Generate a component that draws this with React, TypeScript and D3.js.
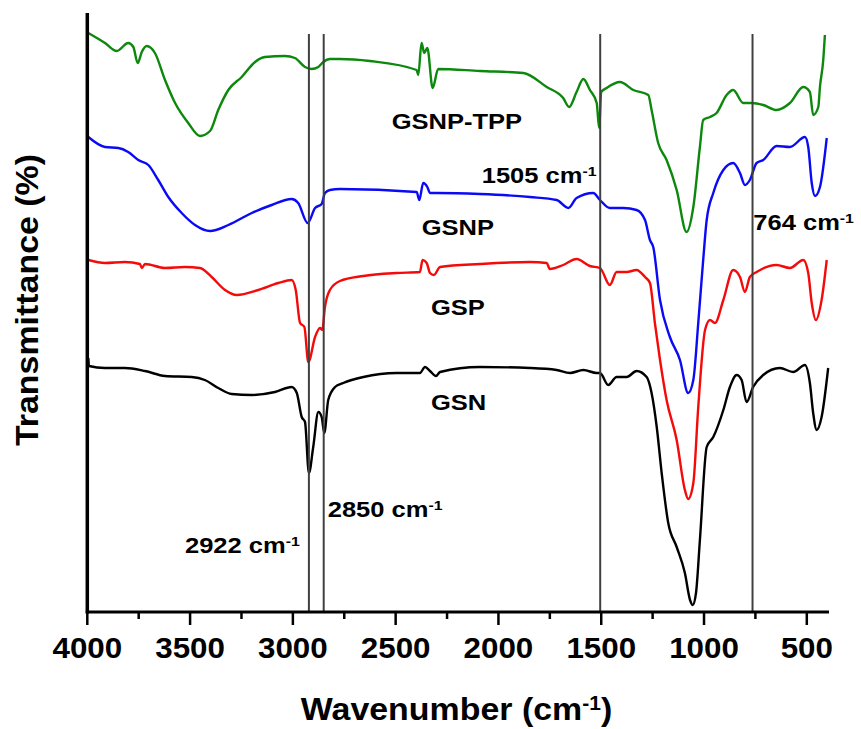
import React from "react";
import * as d3 from "d3";

// wavenumber (cm-1), relative transmittance (arbitrary, stacked offsets)
const GSNP_TPP: [number, number][] = [
  [3995, 579], [3914, 569], [3857, 561], [3801, 569], [3776, 565], [3755, 549], [3735, 560], [3711, 566],
  [3671, 559], [3622, 532], [3573, 509], [3509, 489], [3452, 476], [3403, 481], [3363, 502], [3314, 522],
  [3249, 535], [3184, 550], [3136, 555], [3038, 556], [2990, 554], [2941, 545], [2909, 543], [2876, 545],
  [2852, 550], [2820, 553], [2771, 553], [2625, 551], [2398, 542], [2390, 537], [2374, 569], [2361, 559],
  [2346, 564], [2320, 524], [2293, 543], [2090, 541], [1879, 539], [1765, 525], [1685, 514], [1656, 505],
  [1620, 520], [1587, 533], [1555, 522], [1522, 509], [1510, 484], [1500, 520], [1474, 524], [1409, 530],
  [1344, 522], [1271, 517], [1255, 502], [1223, 469], [1182, 452], [1133, 422], [1085, 380], [1052, 405],
  [1020, 465], [1004, 492], [971, 495], [939, 499], [890, 517], [858, 522], [809, 509], [768, 509],
  [712, 507], [647, 502], [582, 509], [517, 525], [485, 520], [469, 497], [444, 505], [436, 525],
  [420, 552], [412, 577],
];

const GSNP: [number, number][] = [
  [3995, 475], [3914, 465], [3849, 464], [3801, 460], [3752, 452], [3703, 447], [3655, 432], [3606, 415],
  [3541, 399], [3476, 387], [3403, 381], [3314, 387], [3200, 399], [3103, 407], [3006, 413], [2974, 409],
  [2928, 389], [2892, 404], [2860, 408], [2844, 419], [2820, 422], [2771, 423], [2398, 420], [2385, 412],
  [2366, 429], [2346, 425], [2333, 419], [2300, 419], [2090, 418], [1847, 415], [1717, 412], [1660, 404],
  [1620, 414], [1539, 419], [1506, 412], [1458, 404], [1393, 404], [1328, 402], [1287, 392], [1263, 372],
  [1247, 365], [1214, 312], [1166, 275], [1117, 252], [1077, 219], [1052, 232], [1028, 289], [1004, 352],
  [987, 392], [955, 419], [906, 442], [858, 449], [825, 439], [801, 427], [777, 432], [744, 449],
  [712, 452], [647, 466], [582, 465], [509, 475], [493, 465], [476, 429], [460, 416], [436, 425], [403, 474],
];

const GSP: [number, number][] = [
  [3995, 352], [3914, 349], [3817, 350], [3744, 348], [3735, 344], [3719, 348], [3622, 344], [3525, 345],
  [3452, 344], [3395, 335], [3330, 322], [3273, 317], [3168, 322], [3071, 329], [3006, 332], [2986, 322],
  [2965, 289], [2944, 285], [2925, 250], [2892, 275], [2868, 284], [2857, 282], [2844, 305], [2820, 322],
  [2771, 331], [2657, 336], [2495, 339], [2382, 340], [2369, 352], [2349, 349], [2333, 339], [2314, 337],
  [2284, 345], [2090, 348], [1847, 350], [1765, 349], [1750, 343], [1685, 347], [1620, 353], [1555, 346],
  [1506, 344], [1458, 327], [1425, 340], [1376, 340], [1328, 342], [1287, 335], [1263, 329], [1239, 289],
  [1214, 252], [1182, 212], [1133, 172], [1093, 122], [1077, 113], [1052, 129], [1028, 205], [995, 282],
  [971, 292], [947, 289], [906, 312], [858, 342], [825, 335], [801, 320], [777, 335], [744, 340],
  [647, 347], [582, 344], [517, 352], [493, 339], [476, 309], [456, 292], [428, 312], [403, 352],
];

const GSN: [number, number][] = [
  [3995, 254], [3992, 246], [3914, 244], [3817, 244], [3719, 241], [3622, 236], [3492, 235], [3428, 232],
  [3363, 224], [3298, 218], [3200, 217], [3087, 220], [3006, 225], [2981, 219], [2957, 195], [2941, 190],
  [2922, 139], [2901, 165], [2876, 200], [2860, 195], [2847, 179], [2828, 212], [2795, 225], [2755, 229],
  [2657, 235], [2495, 239], [2382, 239], [2357, 245], [2333, 241], [2304, 236], [2284, 240], [2090, 245],
  [1847, 244], [1717, 242], [1652, 239], [1587, 242], [1522, 239], [1506, 239], [1466, 227], [1425, 235],
  [1376, 235], [1328, 241], [1279, 235], [1255, 219], [1230, 185], [1206, 139], [1174, 89], [1133, 65],
  [1093, 39], [1068, 12], [1055, 7], [1039, 19], [1020, 72], [987, 165], [955, 175], [906, 202],
  [874, 225], [841, 237], [817, 232], [793, 210], [761, 225], [712, 237], [631, 244], [566, 240],
  [509, 247], [485, 229], [469, 199], [452, 182], [428, 195], [396, 244],
];

const SERIES = [
  { name: "GSNP-TPP", data: GSNP_TPP, color: "#0c880c" },
  { name: "GSNP", data: GSNP, color: "#0a0af5" },
  { name: "GSP", data: GSP, color: "#f50a0a" },
  { name: "GSN", data: GSN, color: "#000000" },
];

const MARKER_LINES = [2922, 2850, 1505, 764];
const MAJOR_TICKS = [4000, 3500, 3000, 2500, 2000, 1500, 1000, 500];
const MINOR_TICKS = [3750, 3250, 2750, 2250, 1750, 1250, 750];

const FONT = "'Liberation Sans', Arial, Helvetica, sans-serif";

function Label({ x, y, size, sx, text, sup, tail, anchor = "start" }: any) {
  return (
    <g transform={`translate(${x},${y}) scale(${sx},1)`}>
      <text x={0} y={0} fontSize={size} fontWeight="bold" fontFamily={FONT} textAnchor={anchor} fill="#000">
        {text}
        {sup && (
          <tspan dy={-size * 0.32} fontSize={size * 0.62}>
            {sup}
          </tspan>
        )}
        {tail && (
          <tspan dy={size * 0.32} fontSize={size}>
            {tail}
          </tspan>
        )}
      </text>
    </g>
  );
}

export default function App() {
  const x = d3.scaleLinear().domain([4000, 392]).range([87.3, 829]);
  const y = d3.scaleLinear().domain([0, 600]).range([612, 12]);
  const line = d3
    .line<[number, number]>()
    .x((d) => x(d[0]))
    .y((d) => y(d[1]))
    .curve(d3.curveMonotoneX);

  const axisY = y(0);

  return (
    <svg width={861} height={729} style={{ position: "absolute", left: 0, top: 0, background: "#fff" }}>
      {SERIES.map((s) => (
        <path key={s.name} d={line(s.data) || ""} fill="none" stroke={s.color} strokeWidth={2.4} strokeLinejoin="round" />
      ))}
      {MARKER_LINES.map((w) => (
        <line key={w} x1={x(w)} x2={x(w)} y1={y(578)} y2={axisY} stroke="#404040" strokeWidth={2} />
      ))}
      {/* axes */}
      <line x1={x(4000)} x2={x(4000)} y1={y(599)} y2={axisY + 1.5} stroke="#000" strokeWidth={3.5} />
      <line x1={x(4000) - 1.5} x2={x(392)} y1={axisY} y2={axisY} stroke="#000" strokeWidth={3} />
      {MAJOR_TICKS.map((t) => (
        <line key={t} x1={x(t)} x2={x(t)} y1={axisY} y2={axisY + 13} stroke="#000" strokeWidth={2.5} />
      ))}
      {MINOR_TICKS.map((t) => (
        <line key={t} x1={x(t)} x2={x(t)} y1={axisY} y2={axisY + 7} stroke="#000" strokeWidth={2.5} />
      ))}
      {MAJOR_TICKS.map((t) => (
        <Label key={t} x={x(t)} y={658} size={29} sx={1.08} text={String(t)} anchor="middle" />
      ))}
      <Label x={456.5} y={720} size={32} sx={1.06} text="Wavenumber (cm" sup="-1" tail=")" anchor="middle" />
      <g transform="translate(38,300) rotate(-90) scale(1.06,1)">
        <text x={0} y={0} fontSize={32} fontWeight="bold" fontFamily={FONT} textAnchor="middle">
          Transmittance (%)
        </text>
      </g>
      {/* annotations */}
      <Label x={391.7} y={129.3} size={22} sx={1.16} text="GSNP-TPP" />
      <Label x={481.7} y={183} size={22} sx={1.16} text="1505 cm" sup="-1" />
      <Label x={421.7} y={235} size={22} sx={1.16} text="GSNP" />
      <Label x={753.3} y={230} size={22} sx={1.16} text="764 cm" sup="-1" />
      <Label x={431} y={315} size={22} sx={1.16} text="GSP" />
      <Label x={431} y={410} size={22} sx={1.16} text="GSN" />
      <Label x={327.7} y={516.7} size={22} sx={1.16} text="2850 cm" sup="-1" />
      <Label x={185} y={553.3} size={22} sx={1.16} text="2922 cm" sup="-1" />
    </svg>
  );
}
